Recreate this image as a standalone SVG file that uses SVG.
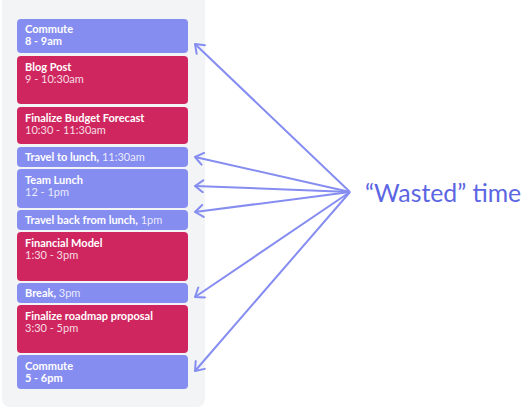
<svg xmlns="http://www.w3.org/2000/svg" width="522" height="409" viewBox="0 0 522 409">
<defs>
<style>
.panel{fill:#f3f4f6}
.blue{fill:#868df1}
.red{fill:#d02660}
.t{font-family:Lato,"Noto Sans",sans-serif;font-size:11px;fill:#ffffff}
.b{font-weight:bold}
.r{fill-opacity:0.85}
.conn{stroke:#868df1;stroke-width:2;fill:none;marker-end:url(#arr)}
.label{font-family:Lato,"Noto Sans",sans-serif;font-size:24.8px;fill:#5c66e2}
</style>
<marker id="arr" markerUnits="userSpaceOnUse" viewBox="-10 -7 12 14" refX="0" refY="0" markerWidth="12" markerHeight="14" orient="auto">
<path d="M-8,-6 L0,0 L-8,6" fill="none" stroke="#868df1" stroke-width="2" stroke-linecap="round" stroke-linejoin="round"/>
</marker>
</defs>
<rect class="panel" x="2" y="-6" width="203" height="413" rx="8"/>
<g id="commute1"><rect class="blue" x="17" y="19" width="171" height="34" rx="4"/><text class="t b" x="25" y="33">Commute</text><text class="t b" x="25" y="45">8 - 9am</text></g>
<g id="blogpost"><rect class="red" x="17" y="56" width="171" height="48" rx="4"/><text class="t b" x="25" y="71">Blog Post</text><text class="t r" x="25" y="83">9 - 10:30am</text></g>
<g id="budget"><rect class="red" x="17" y="107" width="171" height="37" rx="4"/><text class="t b" x="25" y="122">Finalize Budget Forecast</text><text class="t r" x="25" y="134">10:30 - 11:30am</text></g>
<g id="travel1"><rect class="blue" x="17" y="147" width="171" height="20" rx="4"/><text class="t" x="25" y="161"><tspan class="b">Travel to lunch,</tspan><tspan class="r"> 11:30am</tspan></text></g>
<g id="teamlunch"><rect class="blue" x="17" y="169" width="171" height="39" rx="4"/><text class="t b" x="25" y="184">Team Lunch</text><text class="t r" x="25" y="196">12 - 1pm</text></g>
<g id="travel2"><rect class="blue" x="17" y="210" width="171" height="20" rx="4"/><text class="t" x="25" y="224"><tspan class="b">Travel back from lunch,</tspan><tspan class="r"> 1pm</tspan></text></g>
<g id="finmodel"><rect class="red" x="17" y="232" width="171" height="49" rx="4"/><text class="t b" x="25" y="247">Financial Model</text><text class="t r" x="25" y="259">1:30 - 3pm</text></g>
<g id="break"><rect class="blue" x="17" y="283" width="171" height="20" rx="4"/><text class="t" x="25" y="297"><tspan class="b">Break,</tspan><tspan class="r"> 3pm</tspan></text></g>
<g id="roadmap"><rect class="red" x="17" y="305" width="171" height="48" rx="4"/><text class="t b" x="25" y="320">Finalize roadmap proposal</text><text class="t r" x="25" y="332">3:30 - 5pm</text></g>
<g id="commute2"><rect class="blue" x="17" y="355" width="171" height="34" rx="4"/><text class="t b" x="25" y="370">Commute</text><text class="t b" x="25" y="382">5 - 6pm</text></g>
<g id="connectors">
<line class="conn" x1="350" y1="192" x2="195" y2="44"/>
<line class="conn" x1="350" y1="192" x2="195" y2="157"/>
<line class="conn" x1="350" y1="192" x2="195" y2="186"/>
<line class="conn" x1="350" y1="192" x2="195" y2="212"/>
<line class="conn" x1="350" y1="192" x2="195" y2="297"/>
<line class="conn" x1="350" y1="192" x2="195" y2="371"/>
</g>
<g id="wasted"><text class="label" x="365" y="202">“Wasted” time</text></g>
</svg>
